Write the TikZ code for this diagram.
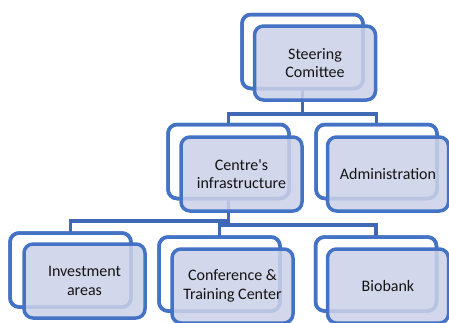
\documentclass[tikz,border=0pt]{standalone}
\usepackage{fontspec}
\setmainfont{Carlito}
\definecolor{boxline}{HTML}{4472C4}
\definecolor{connline}{HTML}{3F68B6}
\definecolor{boxfill}{RGB}{203,209,232}
\definecolor{txt}{HTML}{141414}
\begin{document}
\begin{tikzpicture}[x=1pt,y=-1pt,
  backbox/.style={draw=boxline,line width=3.5pt,rounded corners=9pt,minimum width=121pt,minimum height=74pt,outer sep=0pt,inner sep=0pt},
  frontbox/.style={draw=boxline,line width=3.5pt,rounded corners=9pt,fill=boxfill,fill opacity=0.87,text opacity=1,minimum width=121pt,minimum height=74pt,outer sep=0pt,inner sep=0pt,align=center,text=txt,font=\fontsize{16}{18.5}\selectfont},
  conn/.style={draw=connline,line width=3.5pt}]
\useasboundingbox (0,0) rectangle (449,322);
% back boxes
\node[backbox] (sb) at (302.5,51.5) {};
\node[backbox] (cb) at (228.5,161.5) {};
\node[backbox] (ab) at (376.5,161.5) {};
\node[backbox] (ib) at (70.5,270) {};
\node[backbox] (kb) at (219.5,274) {};
\node[backbox] (bb) at (376,274) {};
% bus points
\coordinate (b1) at (302.5,114);
\coordinate (b2) at (228.5,221);
\coordinate (b3) at (228.5,225);
% connectors
\draw[conn] (sb.south) -- (b1);
\draw[conn] (cb.north) |- (b1) -| (ab.north);
\draw[conn] (cb.south) -- (b3);
\draw[conn] (ib.north) |- (b2);
\draw[conn] (kb.north) |- (b3) -| (bb.north);
% redraw back boxes over connector ends
\node[backbox] at (sb) {};
\node[backbox] at (cb) {};
\node[backbox] at (ab) {};
\node[backbox] at (ib) {};
\node[backbox] at (kb) {};
\node[backbox] at (bb) {};
% front boxes
\node[frontbox] (sf) at (315,63) {Steering\\Comittee};
\node[frontbox] (cf) at (241.5,174) {Centre\textquotesingle s\\infrastructure};
\node[frontbox] (af) at (388,174) {Administration};
\node[frontbox] (if) at (84.5,281) {Investment\\areas};
\node[frontbox] (kf) at (232.5,286) {Conference \&\\Training Center};
\node[frontbox] (bf) at (388,286) {Biobank};
\end{tikzpicture}
\end{document}
